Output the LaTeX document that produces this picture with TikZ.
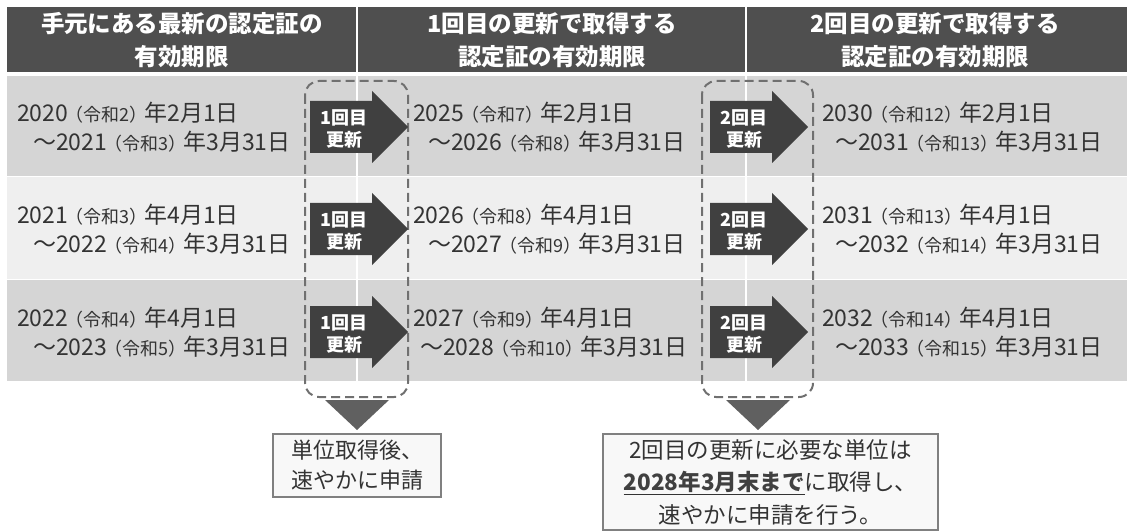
\documentclass[tikz,border=0pt]{standalone}
\usepackage{fontspec}
\setmainfont{Noto Sans CJK JP}
\definecolor{hdr}{HTML}{4F4F4F}
\definecolor{rowd}{HTML}{D5D5D5}
\definecolor{rowl}{HTML}{EFEFEF}
\definecolor{arrc}{HTML}{404040}
\definecolor{dashc}{HTML}{707070}
\definecolor{tric}{HTML}{606060}
\definecolor{txt}{HTML}{333333}
\definecolor{boxf}{HTML}{F8F8F8}
\definecolor{boxd}{HTML}{808080}
\newcommand\sm[1]{{\fontsize{18}{20}\selectfont\hspace{-3pt}#1\hspace{-3pt}}}
\newcommand\rarrow[4]{%
  \fill[arrc] ({#1},{#2-26}) -- ({#1+62},{#2-26}) -- ({#1+62},{#2-36}) -- ({#1+98},{#2})
     -- ({#1+62},{#2+36}) -- ({#1+62},{#2+26}) -- ({#1},{#2+26}) -- cycle;
  \node[arrtext] (#3) at ({#1+34},{#2+2}) {#4\\更新};
}
\begin{document}
\begin{tikzpicture}[x=1pt,y=-1pt,
  hdrtext/.style={text=white,font=\fontsize{23.5}{33}\selectfont\bfseries,align=center,inner sep=0pt},
  celltext/.style={text=txt,font=\fontsize{23}{29}\selectfont,align=left,anchor=west,inner sep=0pt},
  arrtext/.style={text=white,font=\fontsize{18}{22}\selectfont\bfseries,align=center,inner sep=0pt},
  dashbox/.style={draw=dashc,line width=2pt,dash pattern=on 9pt off 5pt,rounded corners=14pt},
  notebox/.style={draw=boxd,fill=boxf,line width=1.5pt,text=txt,align=center,inner sep=0pt},
]
\useasboundingbox (0,0) rectangle (1128,532);
% header
\fill[hdr] (7,7) rectangle (1127,72);
% rows
\fill[rowd] (7,76) rectangle (1127,176);
\fill[rowl] (7,177.5) rectangle (1127,278.5);
\fill[rowd] (7,280) rectangle (1127,381);
% column separators
\draw[white,line width=2pt] (357,7) -- (357,381);
\draw[white,line width=2pt] (745.5,7) -- (745.5,381);
% header text
\node[hdrtext] (h1) at (182,40) {手元にある最新の認定証の\\有効期限};
\node[hdrtext] (h2) at (552,40) {1回目の更新で取得する\\認定証の有効期限};
\node[hdrtext] (h3) at (935,40) {2回目の更新で取得する\\認定証の有効期限};
% row 1
\node[celltext] (a1) at (17,127) {2020\sm{（令和2）}年2月1日\\\hspace*{16pt}～2021\sm{（令和3）}年3月31日};
\node[celltext] (b1) at (413,127) {2025\sm{（令和7）}年2月1日\\\hspace*{15pt}～2026\sm{（令和8）}年3月31日};
\node[celltext] (c1) at (822,127) {2030\sm{（令和12）}年2月1日\\\hspace*{13pt}～2031\sm{（令和13）}年3月31日};
% row 2
\node[celltext] (a2) at (17,229) {2021\sm{（令和3）}年4月1日\\\hspace*{16pt}～2022\sm{（令和4）}年3月31日};
\node[celltext] (b2) at (413,229) {2026\sm{（令和8）}年4月1日\\\hspace*{15pt}～2027\sm{（令和9）}年3月31日};
\node[celltext] (c2) at (822,229) {2031\sm{（令和13）}年4月1日\\\hspace*{13pt}～2032\sm{（令和14）}年3月31日};
% row 3
\node[celltext] (a3) at (17,332) {2022\sm{（令和4）}年4月1日\\\hspace*{16pt}～2023\sm{（令和5）}年3月31日};
\node[celltext] (b3) at (413,332) {2027\sm{（令和9）}年4月1日\\\hspace*{7pt}～2028\sm{（令和10）}年3月31日};
\node[celltext] (c3) at (822,332) {2032\sm{（令和14）}年4月1日\\\hspace*{13pt}～2033\sm{（令和15）}年3月31日};
% dashed groups
\draw[dashbox] (305,81) rectangle (408,397);
\draw[dashbox] (702,81) rectangle (813,397);
% arrows
\rarrow{310}{127}{p1}{1回目}
\rarrow{310}{229}{p2}{1回目}
\rarrow{310}{332}{p3}{1回目}
\rarrow{710}{127}{q1}{2回目}
\rarrow{710}{229}{q2}{2回目}
\rarrow{710}{332}{q3}{2回目}
% triangles
\fill[tric] (325,400) -- (389,400) -- (357,430) -- cycle;
\fill[tric] (726,400) -- (790,400) -- (758,430) -- cycle;
% notes
\node[notebox,minimum width=168pt,minimum height=63pt,font=\fontsize{22}{30}\selectfont] (n1) at (357,465.5) {単位取得後、\\速やかに申請};
\node[notebox,minimum width=335pt,minimum height=96pt,font=\fontsize{22.5}{32.5}\selectfont] (n2) at (770.5,482) {2回目の更新に必要な単位は\\\underline{\textbf{\textcolor{arrc}{2028年3月末まで}}}に取得し、\\速やかに申請を行う。};
\end{tikzpicture}
\end{document}
